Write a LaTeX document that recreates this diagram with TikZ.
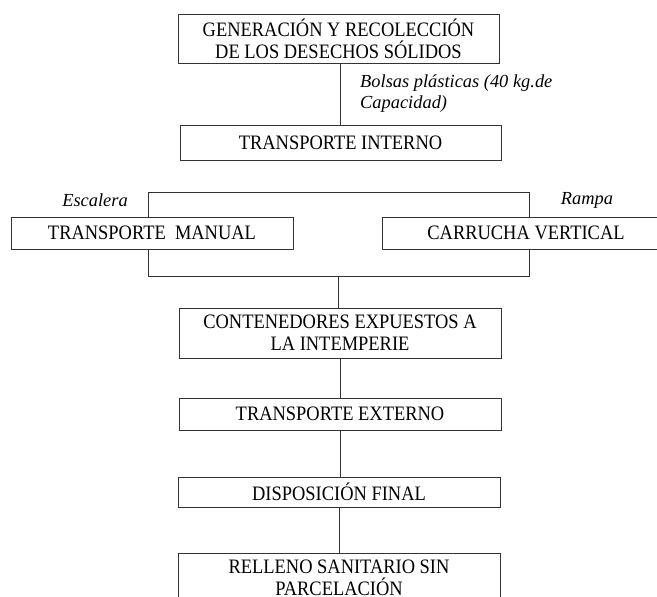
\documentclass[tikz,border=0pt]{standalone}
\usepackage{fontspec}
\setmainfont{Liberation Serif}[FakeStretch=0.9]
\newfontfamily\lblfont{Liberation Serif}
\begin{document}
\begin{tikzpicture}[x=1pt,y=-1pt,
  box/.style={draw=black!80, line width=1pt, inner sep=0pt, align=center,
    font=\fontsize{20.5}{22}\selectfont},
  lbl/.style={font=\lblfont\fontsize{18.4}{21}\selectfont\itshape, inner sep=0pt},
  conn/.style={draw=black!80, line width=1pt}]
\clip (0,0) rectangle (657,597);
\fill[white] (0,0) rectangle (657,597);
\node[box, minimum width=321pt, minimum height=49pt] (gen) at (338.5,38.5)
  {GENERACIÓN Y RECOLECCIÓN\\DE LOS DESECHOS SÓLIDOS};
\node[box, minimum width=321pt, minimum height=35.5pt] (ti) at (340.5,142.75)
  {TRANSPORTE INTERNO};
\node[box, minimum width=282pt, minimum height=32pt] (tm) at (152,233)
  {TRANSPORTE\ \ MANUAL};
\node[box, minimum width=288pt, minimum height=32pt] (cv) at (526,233)
  {CARRUCHA VERTICAL};
\node[box, minimum width=322pt, minimum height=50pt] (cont) at (340,333)
  {CONTENEDORES EXPUESTOS A\\LA INTEMPERIE};
\node[box, minimum width=322pt, minimum height=32pt] (te) at (340,414)
  {TRANSPORTE EXTERNO};
\node[box, minimum width=322pt, minimum height=30pt] (df) at (339,492)
  {DISPOSICIÓN FINAL};
\node[box, minimum width=322pt, minimum height=50pt] (rell) at (339,578)
  {RELLENO SANITARIO SIN\\PARCELACIÓN};
\node[lbl, anchor=north west, align=left] (bolsas) at (360,75)
  {Bolsas plásticas (40 kg.de\\Capacidad)};
\node[lbl] (esc) at (95,200) {Escalera};
\node[lbl] (ram) at (587,200) {Rampa};
\coordinate (tl) at (148,192);
\coordinate (tr) at (529,192);
\coordinate (bl) at (148,276);
\coordinate (br) at (529,276);
\coordinate (m) at (338,276);
\draw[conn] (ti.north) -- (ti.north |- gen.south);
\draw[conn] (tm.north -| tl) |- (tr) -- (cv.north -| tr);
\draw[conn] (tm.south -| bl) |- (br) -- (cv.south -| br);
\draw[conn] (m) -- (cont.north -| m);
\draw[conn] (cont.south) -- (te.north);
\draw[conn] (te.south) -- (te.south |- df.north);
\draw[conn] (df.south) -- (rell.north);
\end{tikzpicture}
\end{document}
